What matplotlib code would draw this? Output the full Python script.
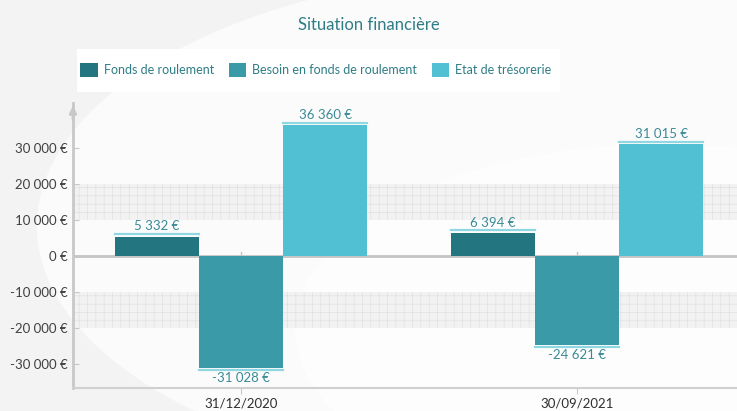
import numpy as np
import matplotlib.pyplot as plt
from matplotlib.patches import Ellipse, Rectangle

plt.rcParams['font.family'] = ['Lato', 'DejaVu Sans']
plt.rcParams['hatch.linewidth'] = 0.4

# données
dates = ['31/12/2020', '30/09/2021']
series = ['Fonds de roulement', 'Besoin en fonds de roulement', 'Etat de trésorerie']
fonds = [5332, 6394]
besoin = [-31028, -24621]
tresorerie = [36360, 31015]
colors = ['#237580', '#3a9aa8', '#50c0d2']
yticks = [-30000, -20000, -10000, 0, 10000, 20000, 30000]


def fmt(v):
    return f"{v:,.0f}".replace(',', ' ') + ' €'


fig = plt.figure(figsize=(7.37, 4.11), dpi=100, facecolor='#f3f3f3')

# fond clair avec une vague blanche
bg = fig.add_axes([0, 0, 1, 1], zorder=-5)
bg.set_xlim(0, 1)
bg.set_ylim(0, 1)
bg.axis('off')
bg.add_patch(Ellipse((0.75, 0.45), 1.4, 1.25, color='#fbfbfb', lw=0))
bg.add_patch(Ellipse((0.9, 0.2), 1.0, 0.9, color='#fdfdfd', lw=0))

ax = fig.add_axes([73 / 737, 23 / 411, 1 - 73 / 737, (388 - 103) / 411])
ax.patch.set_alpha(0)

x = np.arange(len(dates))
w = 0.25
data = [fonds, besoin, tresorerie]

# bandes hachurées
for lo, hi in [(10000, 20000), (-20000, -10000)]:
    ax.axhspan(lo, hi, facecolor='#f2f2f2', edgecolor='#dedede', hatch='++', lw=0, zorder=0)

for i, (vals, c) in enumerate(zip(data, colors)):
    xs = x + (i - 1) * w
    ax.bar(xs, vals, width=w, color=c, label=series[i], zorder=2)
    for xi, v in zip(xs, vals):
        s = 1 if v > 0 else -1
        ax.plot([xi - w / 2, xi + w / 2], [v + s * 700, v + s * 700], color='#8fd8e2', lw=1.6, zorder=2)
        ax.text(xi, v + s * 1200, fmt(v), ha='center', va='bottom' if v > 0 else 'top',
                color='#3a8a96', fontsize=9.5, zorder=3)

ax.axhline(0, color='#c4c4c4', lw=2, zorder=1)
ax.set_xlim(-0.5, 1.476)
ax.set_ylim(-36700, 42500)

ax.set_yticks(yticks)
ax.set_yticklabels([fmt(v) for v in yticks], fontsize=9.5, color='#404040')
ax.set_xticks(x)
ax.set_xticklabels(dates, fontsize=9.5, color='#303030')
ax.tick_params(axis='y', direction='in', length=4, color='#c8c8c8', pad=4)
ax.tick_params(axis='x', direction='out', length=4, color='#c8c8c8', pad=3)
for xi in x:
    ax.plot([xi, xi], [-1100, 1100], color='#c4c4c4', lw=1, zorder=1)

for sp in ['top', 'right']:
    ax.spines[sp].set_visible(False)
ax.spines['left'].set_color('#c8c8c8')
ax.spines['left'].set_linewidth(2)
ax.spines['bottom'].set_color('#d0d0d0')
ax.spines['bottom'].set_linewidth(1.5)
ax.annotate('', xy=(-0.5, 42500), xytext=(-0.5, 37000),
            arrowprops=dict(arrowstyle='-|>', color='#c8c8c8', lw=2, mutation_scale=10),
            annotation_clip=False)

fig.text(0.5, 1 - 25 / 411, 'Situation financière', ha='center', va='center',
         fontsize=12, color='#2e7d85')

# légende dans un cadre blanc
bg.add_patch(Rectangle((77 / 737, 1 - 92 / 411), (560 - 77) / 737, 43 / 411, color='white', lw=0))
leg = fig.legend(loc='center', bbox_to_anchor=(316 / 737, 1 - 70 / 411), ncol=3, frameon=False,
                 fontsize=9, labelcolor='#2e7d85', handlelength=1.4, handleheight=1.4,
                 columnspacing=1.15, handletextpad=0.5, borderpad=0)

fig.savefig('out.png', dpi=100, facecolor=fig.get_facecolor())
